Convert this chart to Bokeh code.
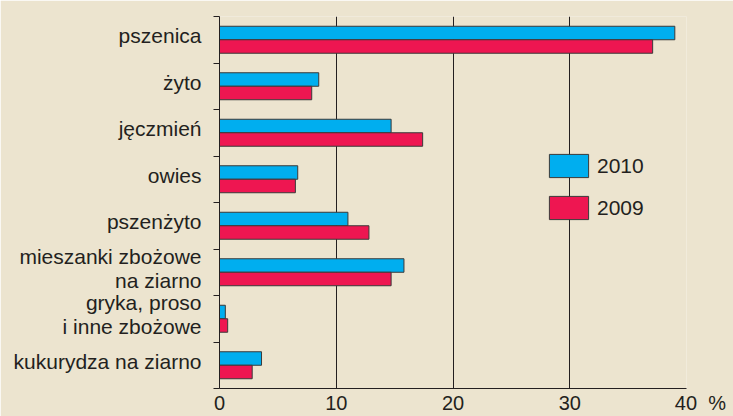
from bokeh.plotting import figure
from bokeh.models import Range1d, FixedTicker, Legend, LegendItem, ColumnDataSource
from bokeh.embed import file_html
from bokeh.resources import INLINE

categories = ["pszenica", "żyto", "jęczmień", "owies", "pszenżyto",
              "mieszanki zbożowe\nna ziarno", "gryka, proso\ni inne zbożowe",
              "kukurydza na ziarno"]
values_2010 = [39.0, 8.5, 14.7, 6.7, 11.0, 15.8, 0.5, 3.6]
values_2009 = [37.1, 7.9, 17.4, 6.5, 12.8, 14.7, 0.7, 2.8]
series_labels = ["2010", "2009"]
x_ticks = [0, 10, 20, 30, 40]
x_unit = "%"

BG = "#ECE4CF"
BLUE = "#00AEEF"
RED = "#EE1651"
INK = "#231F20"
EDGE = "#3A3A3A"
FONT = "Liberation Sans"
NBSP = "\u00a0"

n = len(categories)
centers = [n - 0.5 - i for i in range(n)]
bar_h = 0.29
label_lift = 0.085  # raise category labels slightly above the band centre
src = ColumnDataSource(dict(
    y10=[c + bar_h / 2 for c in centers],
    y09=[c - bar_h / 2 for c in centers],
    v10=values_2010,
    v09=values_2009,
))

p = figure(width=733, height=416, x_range=Range1d(0, 40), y_range=Range1d(0, n),
           output_backend="svg", toolbar_location=None,
           min_border_left=219, min_border_right=47, min_border_top=16, min_border_bottom=25)
p.background_fill_color = BG
p.border_fill_color = BG
p.outline_line_color = None

r10 = p.hbar(y="y10", left=0, right="v10", height=bar_h, fill_color=BLUE,
             line_color=EDGE, line_width=1, source=src)
r09 = p.hbar(y="y09", left=0, right="v09", height=bar_h, fill_color=RED,
             line_color=EDGE, line_width=1, source=src)

# grid
p.xgrid.ticker = FixedTicker(ticks=x_ticks[1:])
p.xgrid.grid_line_color = INK
p.xgrid.grid_line_width = 1
p.ygrid.visible = False

# x axis (the unit sign is attached to the last tick label)
xa = p.xaxis[0]
xa.ticker = FixedTicker(ticks=x_ticks)
last = x_ticks[-1]
xa.major_label_overrides = {last: NBSP * 5 + str(last) + NBSP * 2 + x_unit}
xa.major_tick_out = 0
xa.major_tick_in = 0
xa.minor_tick_out = 0
xa.minor_tick_in = 0
xa.axis_line_color = INK
xa.major_label_standoff = 3
xa.major_label_text_font = FONT
xa.major_label_text_font_size = "20px"
xa.major_label_text_color = INK

# y axis: labels at band centres, small ticks at band boundaries
label_pos = [c + label_lift for c in centers]
ya = p.yaxis[0]
ya.ticker = FixedTicker(ticks=label_pos, minor_ticks=list(range(n + 1)))
ya.major_label_overrides = {y: cat for y, cat in zip(label_pos, categories)}
ya.major_tick_out = 0
ya.major_tick_in = 0
ya.minor_tick_out = 6
ya.minor_tick_in = 0
ya.minor_tick_line_color = INK
ya.axis_line_color = INK
ya.major_label_standoff = 12
ya.major_label_text_font = FONT
ya.major_label_text_font_size = "21px"
ya.major_label_text_color = INK
ya.major_label_text_line_height = 1.05

legend = Legend(items=[LegendItem(label=series_labels[0], renderers=[r10]),
                       LegendItem(label=series_labels[1], renderers=[r09])],
                location=(325, 166), orientation="vertical",
                glyph_width=49, glyph_height=29, spacing=13, label_standoff=4,
                padding=0, margin=0, border_line_alpha=0, background_fill_alpha=0,
                label_text_font=FONT, label_text_font_size="21px", label_text_color=INK)
p.add_layout(legend)

open("out.html", "w").write(file_html(p, INLINE))
